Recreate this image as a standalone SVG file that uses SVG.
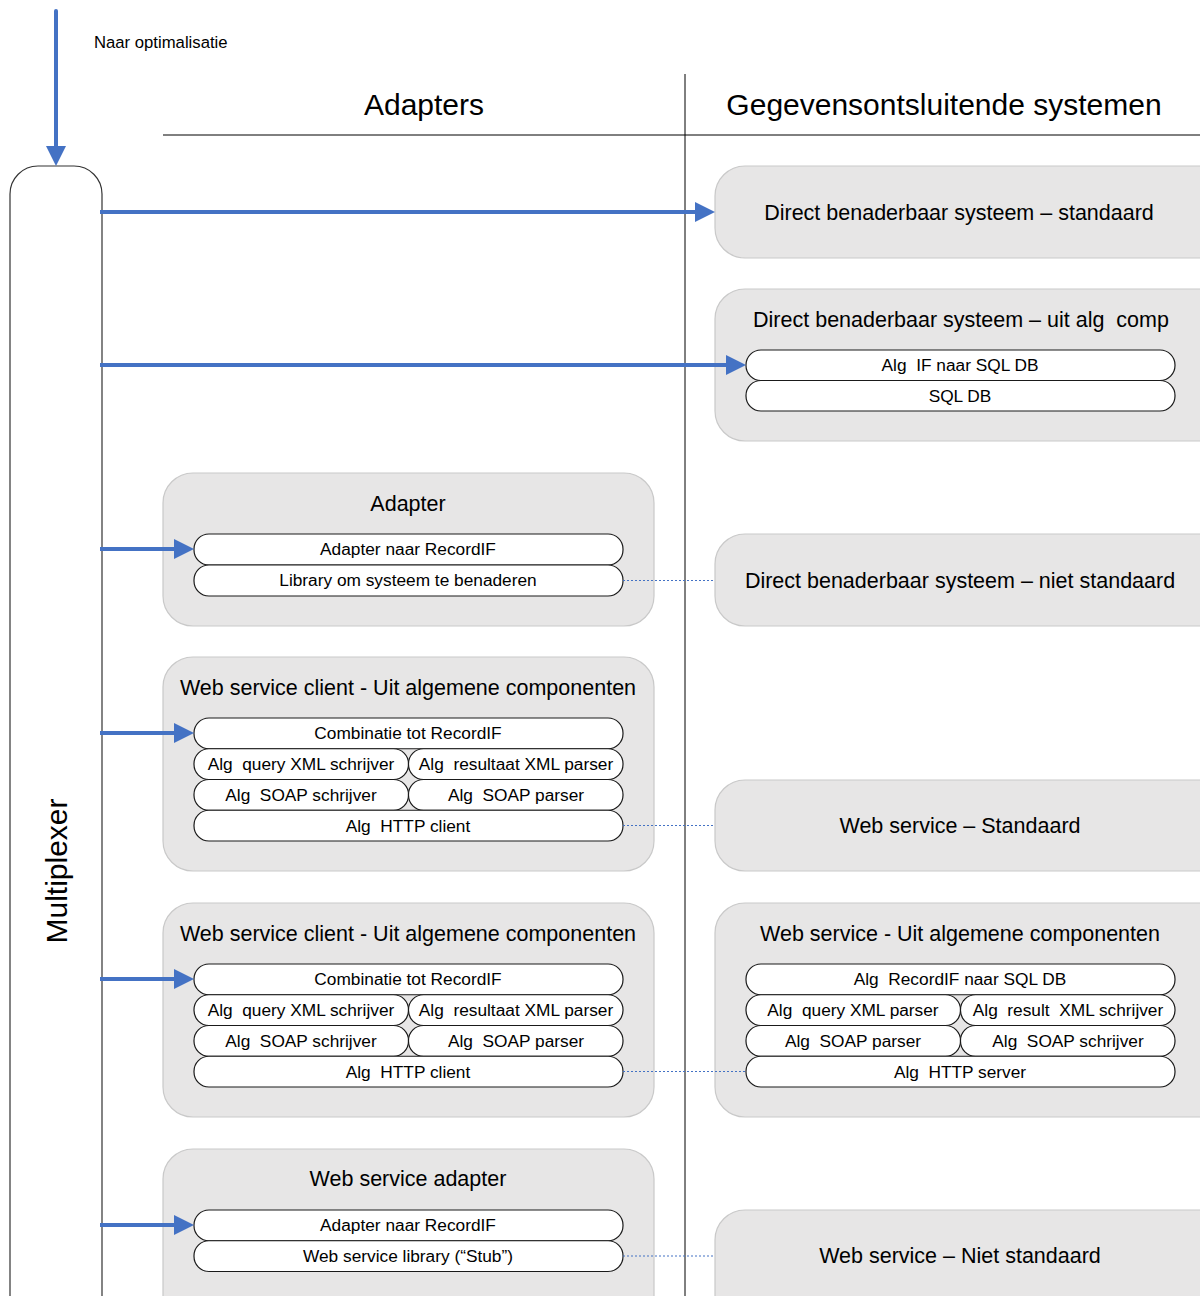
<svg xmlns="http://www.w3.org/2000/svg" width="1200" height="1296" viewBox="0 0 1200 1296">
<style>
text{font-family:"Liberation Sans",Arial,sans-serif;fill:#000;white-space:pre}
.box{fill:#e7e6e6;stroke:#c9c9c9;stroke-width:1.2}
.pill{fill:#fff;stroke:#1a1a1a;stroke-width:1.2}
.t{font-size:21.5px;text-anchor:middle}
.p{font-size:17.3px;text-anchor:middle}
.h{font-size:30px;text-anchor:middle}
.arr{stroke:#4472C4;stroke-width:4;fill:none}
.dot{stroke:#4472C4;stroke-width:1.2;stroke-dasharray:2 2;fill:none}
</style>
<defs>
<marker id="ah" viewBox="0 0 20 20" refX="8" refY="10" markerWidth="20" markerHeight="20" markerUnits="userSpaceOnUse" orient="auto">
<path d="M0,0 L20,10 L0,20 z" fill="#4472C4"/>
</marker>
</defs>

<g id="guides">
<line x1="685" y1="74" x2="685" y2="1296" stroke="#000" stroke-width="1"/>
<line x1="163" y1="135" x2="1200" y2="135" stroke="#000" stroke-width="1"/>
<text class="h" x="424" y="115">Adapters</text>
<text class="h" x="944" y="115">Gegevensontsluitende systemen</text>
<text x="94" y="48" style="font-size:16.7px">Naar optimalisatie</text>
</g>

<g id="multiplexer">
<path d="M10,1310 L10,194 A28,28 0 0 1 38,166 L74,166 A28,28 0 0 1 102,194 L102,1310" fill="#fff" stroke="#333" stroke-width="1.2"/>
<text class="h" transform="translate(67,871) rotate(-90)" x="0" y="0">Multiplexer</text>
</g>

<g id="direct-standaard">
<rect class="box" x="715" y="166" width="520" height="92" rx="30"/>
<text class="t" x="959" y="219.5">Direct benaderbaar systeem – standaard</text>
</g>

<g id="direct-uit-alg">
<rect class="box" x="715" y="289" width="520" height="152" rx="30"/>
<text class="t" x="961" y="326.5">Direct benaderbaar systeem – uit alg  comp</text>
<rect class="pill" x="746" y="350" width="429" height="30.5" rx="15"/>
<text class="p" x="960" y="371">Alg  IF naar SQL DB</text>
<rect class="pill" x="746" y="380.5" width="429" height="30.5" rx="15"/>
<text class="p" x="960" y="401.5">SQL DB</text>
</g>

<g id="adapter">
<rect class="box" x="163" y="473" width="491" height="153" rx="30"/>
<text class="t" x="408" y="510.5">Adapter</text>
<rect class="pill" x="194" y="534" width="429" height="31" rx="15"/>
<text class="p" x="408" y="555">Adapter naar RecordIF</text>
<rect class="pill" x="194" y="565" width="429" height="31" rx="15"/>
<text class="p" x="408" y="586">Library om systeem te benaderen</text>
</g>

<g id="direct-niet-standaard">
<rect class="box" x="715" y="534" width="520" height="92" rx="30"/>
<text class="t" x="960" y="587.5">Direct benaderbaar systeem – niet standaard</text>
</g>

<g id="ws-client-1">
<rect class="box" x="163" y="657" width="491" height="214" rx="30"/>
<text class="t" x="408" y="694.5">Web service client - Uit algemene componenten</text>
<rect class="pill" x="194" y="718" width="429" height="30.75" rx="15"/>
<text class="p" x="408" y="739">Combinatie tot RecordIF</text>
<rect class="pill" x="194" y="748.75" width="214.5" height="30.75" rx="15"/>
<text class="p" x="301" y="770">Alg  query XML schrijver</text>
<rect class="pill" x="408.5" y="748.75" width="214.5" height="30.75" rx="15"/>
<text class="p" x="516" y="770">Alg  resultaat XML parser</text>
<rect class="pill" x="194" y="779.5" width="214.5" height="30.75" rx="15"/>
<text class="p" x="301" y="800.5">Alg  SOAP schrijver</text>
<rect class="pill" x="408.5" y="779.5" width="214.5" height="30.75" rx="15"/>
<text class="p" x="516" y="800.5">Alg  SOAP parser</text>
<rect class="pill" x="194" y="810.25" width="429" height="30.75" rx="15"/>
<text class="p" x="408" y="831.5">Alg  HTTP client</text>
</g>

<g id="ws-standaard">
<rect class="box" x="715" y="780" width="520" height="91" rx="30"/>
<text class="t" x="960" y="832.5">Web service – Standaard</text>
</g>

<g id="ws-client-2">
<rect class="box" x="163" y="903" width="491" height="214" rx="30"/>
<text class="t" x="408" y="940.5">Web service client - Uit algemene componenten</text>
<rect class="pill" x="194" y="964" width="429" height="30.75" rx="15"/>
<text class="p" x="408" y="985">Combinatie tot RecordIF</text>
<rect class="pill" x="194" y="994.75" width="214.5" height="30.75" rx="15"/>
<text class="p" x="301" y="1016">Alg  query XML schrijver</text>
<rect class="pill" x="408.5" y="994.75" width="214.5" height="30.75" rx="15"/>
<text class="p" x="516" y="1016">Alg  resultaat XML parser</text>
<rect class="pill" x="194" y="1025.5" width="214.5" height="30.75" rx="15"/>
<text class="p" x="301" y="1046.5">Alg  SOAP schrijver</text>
<rect class="pill" x="408.5" y="1025.5" width="214.5" height="30.75" rx="15"/>
<text class="p" x="516" y="1046.5">Alg  SOAP parser</text>
<rect class="pill" x="194" y="1056.25" width="429" height="30.75" rx="15"/>
<text class="p" x="408" y="1077.5">Alg  HTTP client</text>
</g>

<g id="ws-uit-alg">
<rect class="box" x="715" y="903" width="520" height="214" rx="30"/>
<text class="t" x="960" y="940.5">Web service - Uit algemene componenten</text>
<rect class="pill" x="746" y="964" width="429" height="30.75" rx="15"/>
<text class="p" x="960" y="985">Alg  RecordIF naar SQL DB</text>
<rect class="pill" x="746" y="994.75" width="214.5" height="30.75" rx="15"/>
<text class="p" x="853" y="1016">Alg  query XML parser</text>
<rect class="pill" x="960.5" y="994.75" width="214.5" height="30.75" rx="15"/>
<text class="p" x="1068" y="1016">Alg  result  XML schrijver</text>
<rect class="pill" x="746" y="1025.5" width="214.5" height="30.75" rx="15"/>
<text class="p" x="853" y="1046.5">Alg  SOAP parser</text>
<rect class="pill" x="960.5" y="1025.5" width="214.5" height="30.75" rx="15"/>
<text class="p" x="1068" y="1046.5">Alg  SOAP schrijver</text>
<rect class="pill" x="746" y="1056.25" width="429" height="30.75" rx="15"/>
<text class="p" x="960" y="1077.5">Alg  HTTP server</text>
</g>

<g id="ws-adapter">
<rect class="box" x="163" y="1149" width="491" height="180" rx="30"/>
<text class="t" x="408" y="1185.5">Web service adapter</text>
<rect class="pill" x="194" y="1210" width="429" height="30.75" rx="15"/>
<text class="p" x="408" y="1231">Adapter naar RecordIF</text>
<rect class="pill" x="194" y="1240.75" width="429" height="30.75" rx="15"/>
<text class="p" x="408" y="1262">Web service library (“Stub”)</text>
</g>

<g id="ws-niet-standaard">
<rect class="box" x="715" y="1210" width="520" height="120" rx="30"/>
<text class="t" x="960" y="1262.5">Web service – Niet standaard</text>
</g>

<g id="connectors">
<line class="arr" x1="56" y1="11" x2="56" y2="154" marker-end="url(#ah)" stroke-linecap="round"/>
<line class="arr" x1="100" y1="212" x2="703" y2="212" marker-end="url(#ah)"/>
<line class="arr" x1="100" y1="365" x2="734" y2="365" marker-end="url(#ah)"/>
<line class="arr" x1="100" y1="549" x2="182" y2="549" marker-end="url(#ah)"/>
<line class="arr" x1="100" y1="733" x2="182" y2="733" marker-end="url(#ah)"/>
<line class="arr" x1="100" y1="979" x2="182" y2="979" marker-end="url(#ah)"/>
<line class="arr" x1="100" y1="1225" x2="182" y2="1225" marker-end="url(#ah)"/>
<line class="dot" x1="623" y1="580.5" x2="715" y2="580.5"/>
<line class="dot" x1="623" y1="825.5" x2="715" y2="825.5"/>
<line class="dot" x1="623" y1="1071.5" x2="746" y2="1071.5"/>
<line class="dot" x1="623" y1="1256" x2="715" y2="1256"/>
</g>
</svg>
